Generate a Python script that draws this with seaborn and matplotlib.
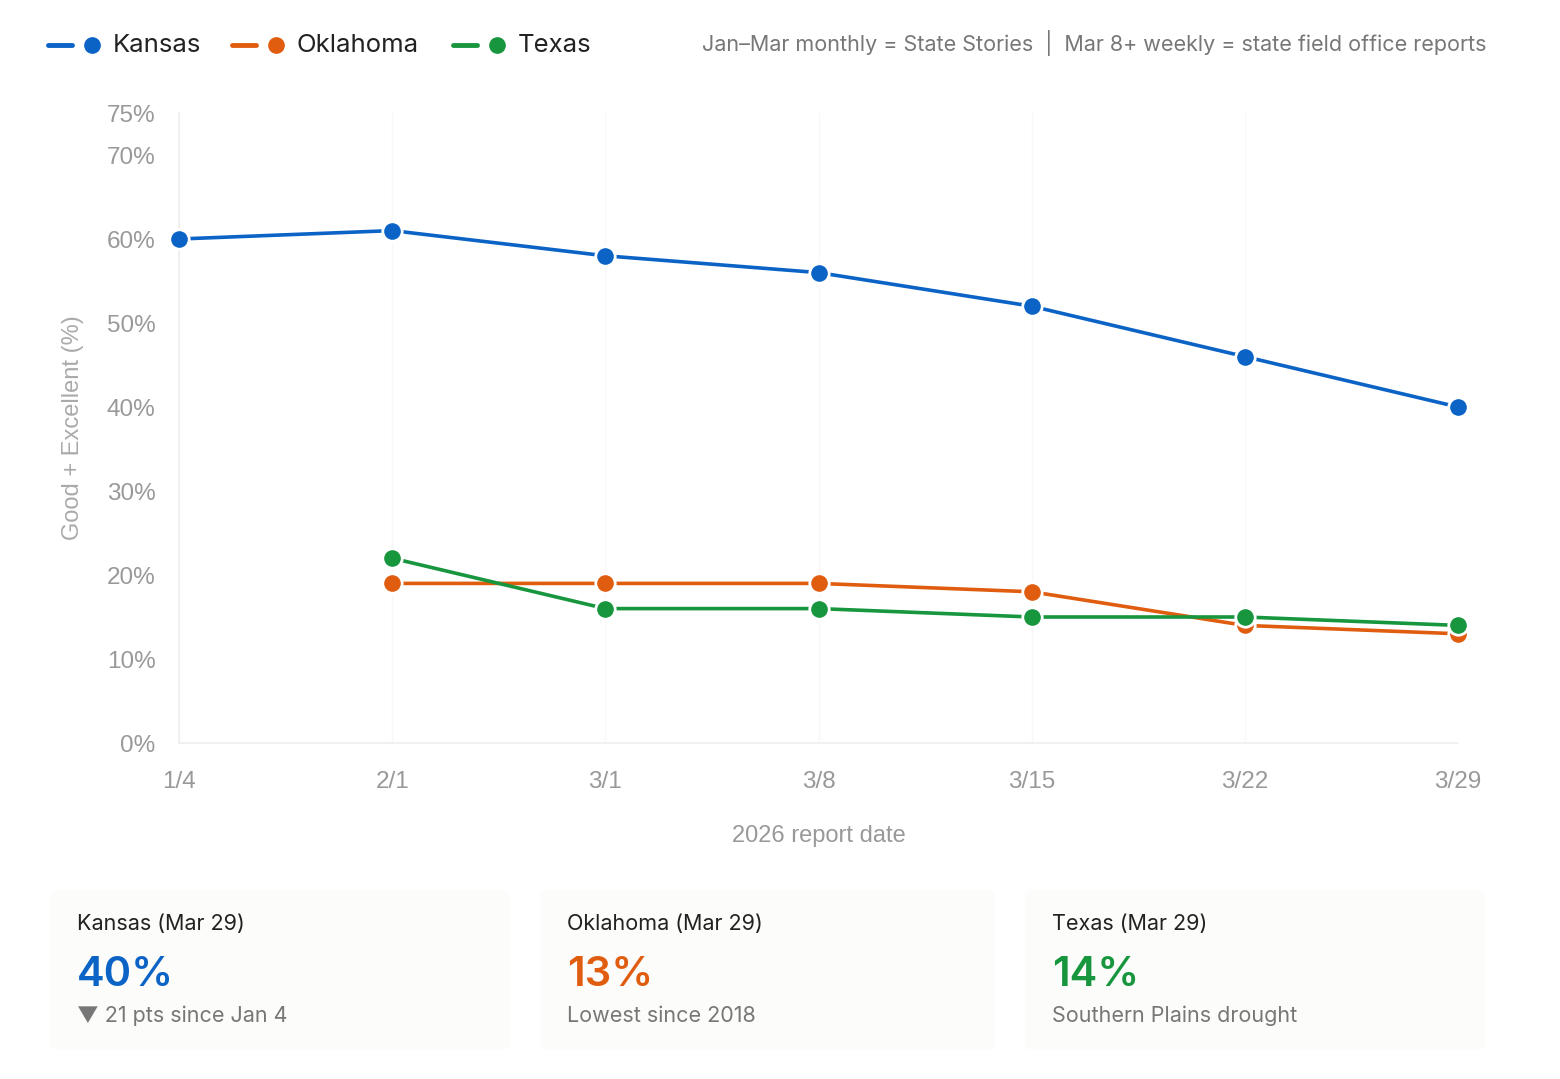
import pandas as pd
import matplotlib.pyplot as plt
import seaborn as sns
from matplotlib.lines import Line2D
from matplotlib.patches import FancyBboxPatch

dates = ["1/4", "2/1", "3/1", "3/8", "3/15", "3/22", "3/29"]
kansas = [60, 61, 58, 56, 52, 46, 40]
oklahoma = [None, 19, 19, 19, 18, 14, 13]
texas = [None, 22, 16, 16, 15, 15, 14]
y_ticks = [0, 10, 20, 30, 40, 50, 60, 70, 75]

states = ["Kansas", "Oklahoma", "Texas"]
colors = {"Kansas": "#0b63c6", "Oklahoma": "#e05d10", "Texas": "#17963e"}

cards = [
    ("Kansas (Mar 29)", "40%", "\u25bc 21 pts since Jan 4"),
    ("Oklahoma (Mar 29)", "13%", "Lowest since 2018"),
    ("Texas (Mar 29)", "14%", "Southern Plains drought"),
]

rows = []
for name, vals in zip(states, [kansas, oklahoma, texas]):
    for i, v in enumerate(vals):
        if v is not None:
            rows.append({"pos": i, "state": name, "value": v})
df = pd.DataFrame(rows)

sns.set_style("white")
plt.rcParams["font.family"] = ["Inter", "DejaVu Sans"]
tick_font = ["Liberation Sans", "DejaVu Sans"]

fig = plt.figure(figsize=(15.6, 10.79), dpi=100)
fig.patch.set_facecolor("white")
ax = fig.add_axes([179 / 1560, 1 - 743 / 1079, (1458 - 179) / 1560, (743 - 113) / 1079])

sns.lineplot(data=df, x="pos", y="value", hue="state", palette=colors,
             marker="o", markersize=14, markeredgecolor="white", markeredgewidth=2,
             linewidth=2.6, legend=False, ax=ax, zorder=3, clip_on=False)

ax.set_xlim(0, len(dates) - 1)
ax.set_ylim(0, 75)
ax.set_xticks(range(len(dates)))
ax.set_xticklabels(dates)
ax.set_yticks(y_ticks)
ax.set_yticklabels([f"{t}%" for t in y_ticks])
for lab in ax.get_xticklabels() + ax.get_yticklabels():
    lab.set_family(tick_font)
    lab.set_fontsize(17.5)
    lab.set_color("#999999")
ax.tick_params(axis="both", length=0)
ax.tick_params(axis="y", pad=17)
ax.tick_params(axis="x", pad=20)
ax.grid(axis="x", color="#f8f8f8", linewidth=1)
ax.grid(axis="y", visible=False)
for s in ["top", "right"]:
    ax.spines[s].set_visible(False)
for s in ["left", "bottom"]:
    ax.spines[s].set_color("#efefef")
    ax.spines[s].set_linewidth(1.2)

ax.set_xlabel("2026 report date", fontsize=17, color="#999999", labelpad=23, family=tick_font)
ax.set_ylabel("Good + Excellent (%)", fontsize=17, color="#aaaaaa", labelpad=16, family=tick_font)

# legend at top
ly = 1 - 45 / 1079
for name, x0 in zip(states, [48, 232, 453]):
    c = colors[name]
    fig.add_artist(Line2D([x0 / 1560, (x0 + 24) / 1560], [ly, ly], color=c, linewidth=3.5,
                          transform=fig.transFigure))
    fig.add_artist(Line2D([(x0 + 44) / 1560], [ly], color=c, marker="o", markersize=11,
                          linestyle="none", transform=fig.transFigure))
    fig.text((x0 + 65) / 1560, ly, name, fontsize=18.5, color="#222222", va="center", ha="left")

fig.text(1487 / 1560, 1 - 43 / 1079,
         "Jan\u2013Mar monthly = State Stories  |  Mar 8+ weekly = state field office reports",
         fontsize=15.5, color="#777777", ha="right", va="center")

# summary cards
for (title, big, sub), (xa, xb), name in zip(cards, [(50, 510), (540, 995), (1025, 1485)], states):
    box = FancyBboxPatch((xa / 1560, 1 - 1050 / 1079), (xb - xa) / 1560, 160 / 1079,
                         boxstyle="round,pad=0,rounding_size=0.006",
                         facecolor="#fcfcfa", edgecolor="none", linewidth=0,
                         transform=fig.transFigure)
    fig.add_artist(box)
    tx = (xa + 27) / 1560
    fig.text(tx, 1 - 924 / 1079, title, fontsize=15.5, color="#222222", va="center")
    fig.text(tx, 1 - 975 / 1079, big, fontsize=30, color=colors[name], va="center",
             fontweight="semibold")
    fig.text(tx, 1 - 1016 / 1079, sub, fontsize=15.5, color="#777777", va="center")

fig.savefig("out.png", dpi=100, facecolor="white")
